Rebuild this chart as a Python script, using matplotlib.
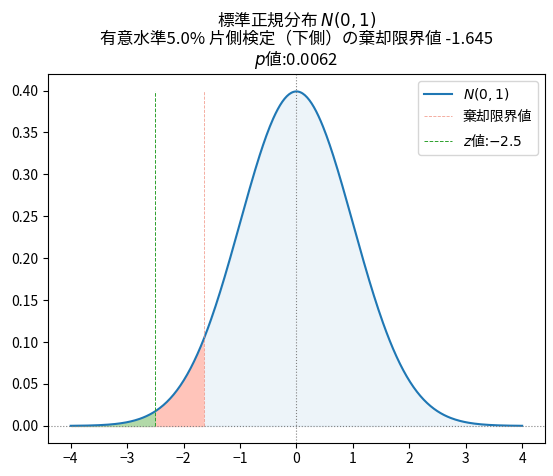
import numpy as np
import matplotlib.pyplot as plt

plt.rcParams['font.family'] = ['Noto Sans CJK JP', 'DejaVu Sans']
plt.rcParams['axes.unicode_minus'] = False

# 条件
mu = 0
sigma = 1
alpha = 0.05
z_crit = -1.645
z_value = -2.5
p_value = 0.0062
x_min, x_max = -4, 4


def norm_pdf(x):
    return np.exp(-0.5 * ((x - mu) / sigma) ** 2) / (sigma * np.sqrt(2 * np.pi))


def main():
    x = np.linspace(x_min, x_max, 400)
    y = norm_pdf(x)
    peak = norm_pdf(mu)

    fig = plt.figure(figsize=(5.53, 4.76), dpi=100)
    ax = fig.add_axes([0.087, 0.07, 0.898, 0.775])

    ax.plot(x, y, color='#1f77b4', lw=1.5, label='$N(0,1)$')
    ax.fill_between(x, y, color='#1f77b4', alpha=0.08)

    mask_rej = x <= z_crit
    ax.fill_between(x[mask_rej], y[mask_rej], color='#ffc4ba', alpha=1.0)
    mask_z = x <= z_value
    ax.fill_between(x[mask_z], y[mask_z], color='#b2d9a8', alpha=1.0)

    ax.vlines(z_crit, 0, peak, colors='#f08a78', linestyles='--', lw=0.6,
              alpha=0.8, label='棄却限界値')
    ax.vlines(z_value, 0, peak, colors='#2ca02c', linestyles='--', lw=0.7,
              label=f'$z$値:${z_value}$')
    ax.axvline(mu, color='gray', ls=':', lw=0.8)
    ax.axhline(0, color='gray', ls=':', lw=0.8)

    ax.set_ylim(-0.02, 0.42)
    ax.set_yticks(np.arange(0, 0.41, 0.05))
    ax.set_yticklabels([f'{v:.2f}' for v in np.arange(0, 0.41, 0.05)])
    ax.set_xticks(np.arange(x_min, x_max + 1, 1))
    ax.set_xticklabels([f'{v}'.replace('-', '−') for v in range(x_min, x_max + 1)])

    ax.set_title(
        f'標準正規分布 $N(0,1)$\n'
        f'有意水準{alpha * 100:.1f}% 片側検定（下側）の棄却限界値 {z_crit}\n'
        f'$p$値:{p_value}',
        fontsize=12, linespacing=1.05
    )
    ax.legend(loc='upper right')

    fig.savefig('out.png', dpi=100)


if __name__ == '__main__':
    main()
